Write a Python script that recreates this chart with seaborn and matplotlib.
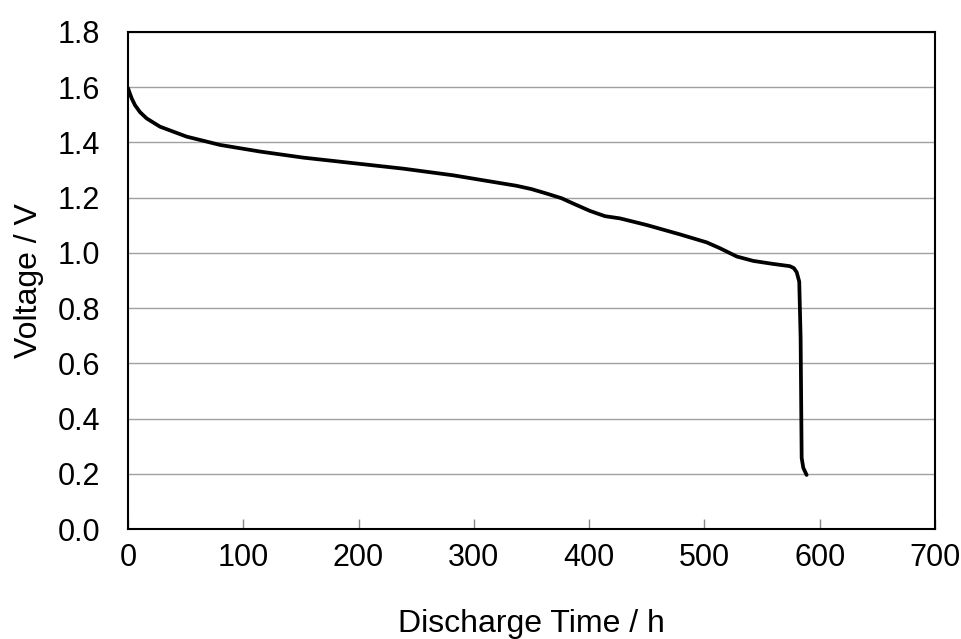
import matplotlib
matplotlib.use("Agg")
import matplotlib.pyplot as plt
import seaborn as sns
import pandas as pd

time_h = [0, 1.0, 3.2, 6.1, 10.4, 16.2, 27.8, 50.9, 79.8, 114.5, 152, 195.4,
          238.8, 282, 308, 337, 350, 363, 376, 386, 400.7, 413.7, 426.7, 449.9,
          478.8, 502, 513.4, 528, 542.3, 559.7, 574, 577.5, 580, 582.2, 583.4,
          584.3, 585.7, 588.6]
voltage_v = [1.597, 1.585, 1.560, 1.535, 1.510, 1.487, 1.457, 1.421, 1.391,
             1.367, 1.345, 1.325, 1.305, 1.281, 1.263, 1.243, 1.231, 1.215,
             1.198, 1.179, 1.152, 1.133, 1.125, 1.101, 1.067, 1.038, 1.017,
             0.987, 0.971, 0.960, 0.952, 0.945, 0.930, 0.896, 0.692, 0.258,
             0.222, 0.196]

df = pd.DataFrame({"t": time_h, "v": voltage_v})

sns.set_theme(style="white")
plt.rcParams["font.family"] = ["Liberation Sans", "DejaVu Sans"]

fig = plt.figure(figsize=(9.62, 6.39), dpi=100)
ax = fig.add_axes([0.133, 0.172, 0.839, 0.778])

sns.lineplot(data=df, x="t", y="v", sort=False, color="black", linewidth=2.7, ax=ax)
ax.lines[0].set_solid_joinstyle("round")
ax.lines[0].set_solid_capstyle("round")

ax.set_xlim(0, 700)
ax.set_ylim(0, 1.8)
ax.set_xticks(range(0, 701, 100))
ax.set_yticks([i * 0.2 for i in range(10)])
ax.set_yticklabels([f"{i*0.2:.1f}" for i in range(10)])
ax.yaxis.grid(True, color="#a0a0a0", linewidth=1.0)
ax.xaxis.grid(False)
ax.set_axisbelow(True)

for s in ax.spines.values():
    s.set_color("black")
    s.set_linewidth(1.5)

ax.tick_params(axis="x", direction="in", length=7, width=1, color="#888888",
               labelsize=22, pad=10, bottom=True, labelcolor="black")
ax.tick_params(axis="y", length=0, labelsize=22, pad=20, labelcolor="black")
ax.set_xlabel("Discharge Time / h", fontsize=23, labelpad=26, color="black")
ax.set_ylabel("Voltage / V", fontsize=23, labelpad=10, color="black")

fig.savefig("out.png", dpi=100)
